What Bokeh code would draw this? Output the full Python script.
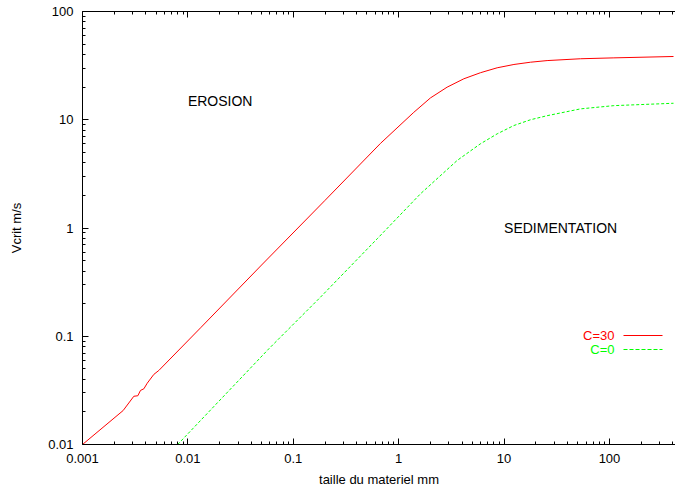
from bokeh.plotting import figure
from bokeh.models import (FixedTicker, LogAxis, Label, Arrow, ColumnDataSource, Range1d,
                          CustomJSTickFormatter)
from bokeh.embed import file_html
from bokeh.resources import INLINE

# ---- data (d in mm, Vcrit in m/s) ----
d_c30 = [0.001, 0.00243, 0.00307, 0.00335, 0.00355, 0.00382, 0.00411, 0.00475, 0.0053,
         0.0132, 0.05, 0.2, 0.671, 1.39, 2.0, 2.88, 4.15, 5.97, 8.6, 12.4, 17.8, 25.6,
         53, 110, 405]
v_c30 = [0.01, 0.0206, 0.0279, 0.0282, 0.0316, 0.0327, 0.0368, 0.0444, 0.0483,
         0.1197, 0.455, 1.8, 6.04, 11.7, 15.9, 20.0, 23.9, 27.2, 30.2, 32.4, 34.0, 35.2,
         36.6, 37.3, 38.4]

d_c0 = [0.0080, 0.0586, 0.181, 0.625, 1.61, 3.59, 5.97, 8.6, 12.4, 17.8, 25.6, 53, 110, 405]
v_c0 = [0.01, 0.0766, 0.2296, 0.795, 2.07, 4.21, 6.0, 7.41, 8.85, 10.0, 10.9, 12.6, 13.5, 14.2]

x_ticks = [0.001, 0.01, 0.1, 1, 10, 100]
x_tick_labels = ["0.001", "0.01", "0.1", "1", "10", "100"]
y_ticks = [0.01, 0.1, 1, 10, 100]
y_tick_labels = ["0.01", "0.1", "1", "10", "100"]

series_names = ["C=30", "C=0"]
region_labels = ["EROSION", "SEDIMENTATION"]
region_pos = [(0.01, 15), (10, 1)]

FONT = "Liberation Sans"
FS = "13px"

x_minor = [k * 10.0 ** e for e in range(-3, 3) for k in range(2, 10)]
y_minor = [k * 10.0 ** e for e in range(-2, 2) for k in range(2, 10)]

LABEL_JS = """
let best = -1;
for (let i = 0; i < tvals.length; i++) {
  if (Math.abs(Math.log10(tvals[i]) - Math.log10(tick)) < 1e-6) { best = i; }
}
return best >= 0 ? tlabels[best] : "";
"""

p = figure(width=675, height=490, x_axis_type="log", y_axis_type="log",
           x_range=Range1d(0.001, 423), y_range=Range1d(0.01, 100),
           output_backend="svg", toolbar_location=None,
           min_border_left=82, min_border_right=0, min_border_top=11, min_border_bottom=46)
p.outline_line_color = None
p.grid.visible = False
p.background_fill_color = "white"
p.border_fill_color = "white"

def style_axis(ax):
    ax.axis_line_color = "black"
    ax.axis_line_width = 1
    ax.major_tick_in = 6
    ax.major_tick_out = 0
    ax.minor_tick_in = 3
    ax.minor_tick_out = 0
    ax.major_tick_line_color = "black"
    ax.minor_tick_line_color = "black"
    ax.major_label_text_font = FONT
    ax.major_label_text_font_size = FS
    ax.major_label_text_color = "black"
    ax.axis_label_text_font = FONT
    ax.axis_label_text_font_size = FS
    ax.axis_label_text_font_style = "normal"
    ax.axis_label_text_color = "black"

xa = p.xaxis[0]
ya = p.yaxis[0]
xa.ticker = FixedTicker(ticks=x_ticks, minor_ticks=x_minor)
ya.ticker = FixedTicker(ticks=y_ticks, minor_ticks=y_minor)
style_axis(xa)
style_axis(ya)
xa.formatter = CustomJSTickFormatter(args=dict(tvals=x_ticks, tlabels=x_tick_labels), code=LABEL_JS)
ya.formatter = CustomJSTickFormatter(args=dict(tvals=y_ticks, tlabels=y_tick_labels), code=LABEL_JS)
xa.axis_label = "taille du materiel mm"
ya.axis_label = "Vcrit m/s"
xa.major_label_standoff = 9
xa.axis_label_standoff = 6
ya.major_label_standoff = 9
ya.axis_label_standoff = 21

top = LogAxis(ticker=FixedTicker(ticks=x_ticks, minor_ticks=x_minor),
              formatter=CustomJSTickFormatter(code="return ' ';"))
style_axis(top)
top.major_label_text_font_size = "1px"
top.major_label_standoff = 0
p.add_layout(top, "above")

src30 = ColumnDataSource(dict(d=d_c30, v=v_c30))
src0 = ColumnDataSource(dict(d=d_c0, v=v_c0))
p.line("d", "v", source=src30, line_color="#ff0000", line_width=1)
p.line("d", "v", source=src0, line_color="#00ff00", line_width=1, line_dash="3 2")

for txt, (x, y) in zip(region_labels, region_pos):
    p.add_layout(Label(x=x, y=y, text=txt, text_font=FONT, text_font_size="14px",
                       text_align="left", text_baseline="middle", text_color="black"))

# legend (gnuplot style: text then sample line), positioned in screen units
leg_colors = ["#ff0000", "#00ff00"]
leg_dash = ["solid", "4 2"]
leg_y = [109, 95]
for name, col, dash, ly in zip(series_names, leg_colors, leg_dash, leg_y):
    p.add_layout(Label(x=532, y=ly, x_units="screen", y_units="screen", text=name,
                       text_font=FONT, text_font_size=FS, text_color=col,
                       text_align="right", text_baseline="middle"))
    p.add_layout(Arrow(x_start=541, y_start=ly, x_end=580, y_end=ly,
                       start_units="screen", end_units="screen", start=None, end=None,
                       line_color=col, line_width=1, line_dash=dash))

open("out.html", "w").write(file_html(p, INLINE))
